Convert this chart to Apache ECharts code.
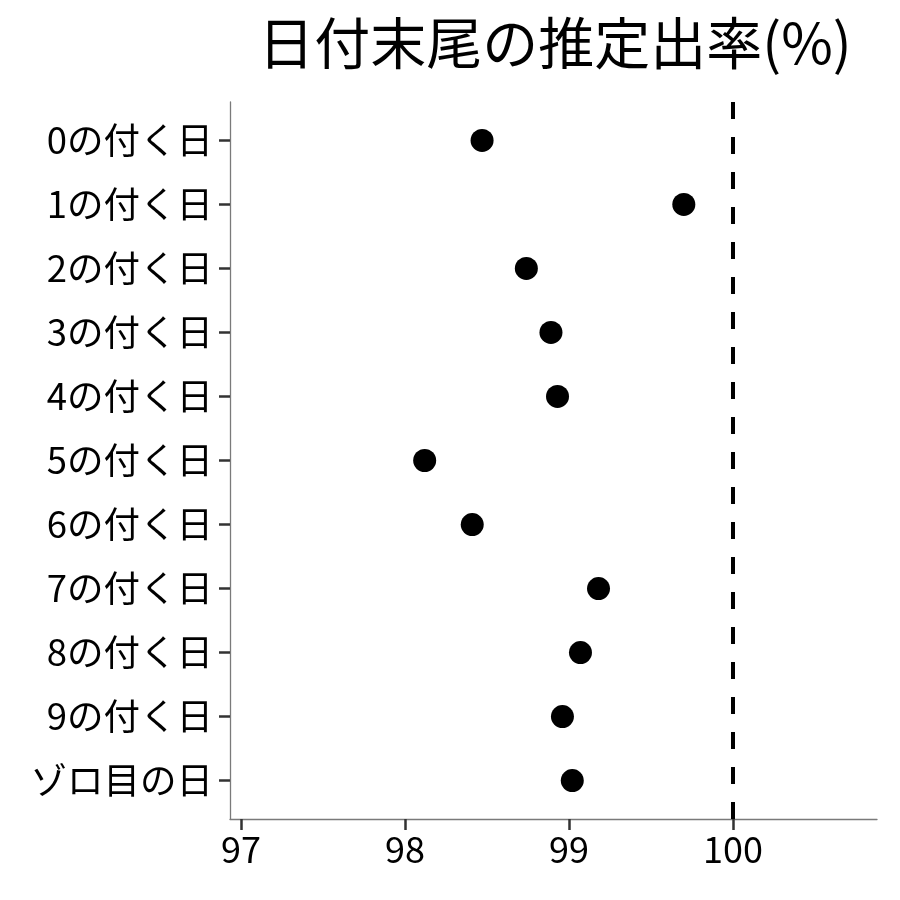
<!DOCTYPE html>
<html>
<head>
<meta charset="utf-8">
<script src="https://cdn.jsdelivr.net/npm/echarts@6/dist/echarts.min.js"></script>
<style>
html,body{margin:0;padding:0;background:#fff;}
#chart{width:900px;height:900px;}
</style>
</head>
<body>
<div id="chart"></div>
<script>
const titleText = '日付末尾の推定出率(%)';
const categories = ['0の付く日','1の付く日','2の付く日','3の付く日','4の付く日','5の付く日','6の付く日','7の付く日','8の付く日','9の付く日','ゾロ目の日'];
const payoutRates = [98.47, 99.70, 98.74, 98.89, 98.93, 98.12, 98.41, 99.18, 99.07, 98.96, 99.02];
const xTicks = [97, 98, 99, 100];
const referenceValue = 100;

const font = '"Noto Sans CJK JP", "Noto Sans", sans-serif';
const chart = echarts.init(document.getElementById('chart'), null, {renderer: 'canvas'});
const points = payoutRates.map((v, i) => [v, i]);
const yIdx = categories.map((c, i) => i);

chart.setOption({
  backgroundColor: '#fff',
  animation: false,
  title: {
    text: titleText,
    left: 550,
    top: 10,
    textAlign: 'center',
    textStyle: {fontFamily: font, fontSize: 56, fontWeight: 'normal', color: '#000'}
  },
  grid: {left: 230, right: 23, top: 102, bottom: 81, containLabel: false},
  xAxis: {
    type: 'value',
    min: 96.933,
    max: 100.878,
    splitLine: {show: false},
    axisLine: {show: true, onZero: false, lineStyle: {color: '#7a7a7a', width: 1.3}},
    axisTick: {show: true, customValues: xTicks, length: 11, lineStyle: {color: '#333', width: 2.5}},
    axisLabel: {customValues: xTicks, margin: 12, fontFamily: font, fontSize: 36, color: '#000'}
  },
  yAxis: {
    type: 'value',
    inverse: true,
    min: -0.6,
    max: 10.6,
    splitLine: {show: false},
    axisLine: {show: true, onZero: false, lineStyle: {color: '#7a7a7a', width: 1.3}},
    axisTick: {show: true, customValues: yIdx, length: 11, lineStyle: {color: '#333', width: 2.5}},
    axisLabel: {
      customValues: yIdx, margin: 17, fontFamily: font, fontSize: 36.5, color: '#000',
      formatter: v => categories[Math.round(v)] || ''
    }
  },
  series: [{
    type: 'scatter',
    data: points,
    symbol: 'circle',
    symbolSize: 23,
    itemStyle: {color: '#000', opacity: 1},
    markLine: {
      silent: true,
      symbol: ['none', 'none'],
      label: {show: false},
      lineStyle: {color: '#000', width: 4, type: [17, 18], opacity: 1},
      data: [{xAxis: referenceValue}]
    }
  }]
});
</script>
</body>
</html>
